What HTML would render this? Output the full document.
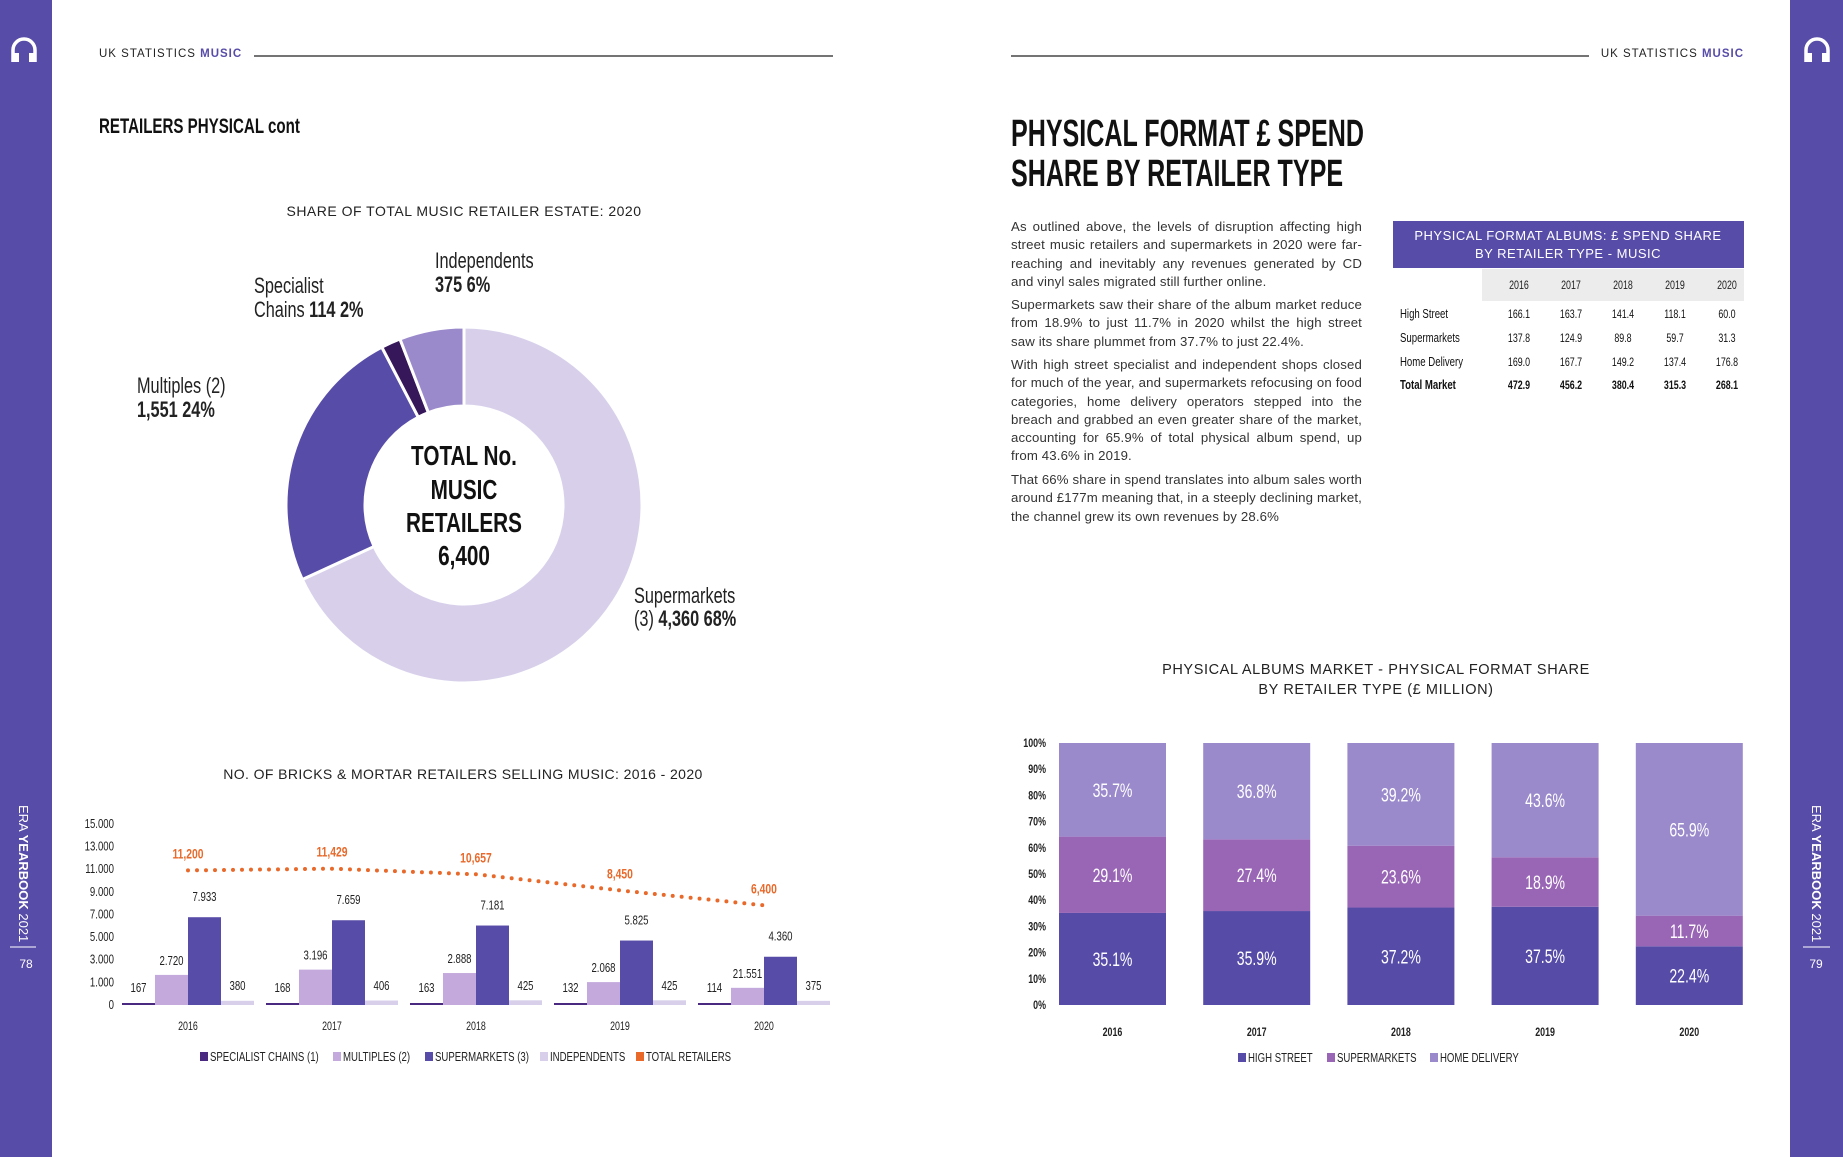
<!DOCTYPE html>
<html><head><meta charset="utf-8">
<style>
html,body{margin:0;padding:0;background:#fff;}
body{width:1843px;height:1157px;position:relative;overflow:hidden;font-family:"Liberation Sans",sans-serif;}
.para{position:absolute;left:1011px;width:351px;font-family:"Liberation Sans",sans-serif;font-size:13.2px;letter-spacing:0.15px;line-height:18.3px;color:#333;text-align:justify;margin:0;}
</style></head>
<body>
<svg id="page" width="1843" height="1157" viewBox="0 0 1843 1157" xmlns="http://www.w3.org/2000/svg" style="position:absolute;left:0;top:0;font-family:'Liberation Sans',sans-serif;">
  <rect x="0" y="0" width="52" height="1157" fill="#574ca8"/>
  <rect x="1790" y="0" width="53" height="1157" fill="#574ca8"/>
  <g fill="none" stroke="#fff" stroke-width="3.5">
    <path d="M13 62 V50 a11 11 0 0 1 22 0 V62"/><rect x="13" y="53" width="6" height="9" fill="#fff" stroke="none"/><rect x="29" y="53" width="6" height="9" fill="#fff" stroke="none"/>
  </g>
  <g fill="none" stroke="#fff" stroke-width="3.5">
    <path d="M1806 62 V50 a11 11 0 0 1 22 0 V62"/><rect x="1806" y="53" width="6" height="9" fill="#fff" stroke="none"/><rect x="1822" y="53" width="6" height="9" fill="#fff" stroke="none"/>
  </g>
  <text data-wide="1" transform="translate(19,805) rotate(90)" fill="#fff" font-size="13">ERA <tspan font-weight="bold">YEARBOOK</tspan> 2021</text>
  <line x1="10" y1="947" x2="36" y2="947" stroke="#fff" stroke-width="1"/>
  <text data-wide="1" x="26" y="968" fill="#fff" font-size="12" text-anchor="middle">78</text>
  <text data-wide="1" transform="translate(1812,805) rotate(90)" fill="#fff" font-size="13">ERA <tspan font-weight="bold">YEARBOOK</tspan> 2021</text>
  <line x1="1803" y1="947" x2="1830" y2="947" stroke="#fff" stroke-width="1"/>
  <text data-wide="1" x="1816" y="968" fill="#fff" font-size="12" text-anchor="middle">79</text>

  <text data-wide="1" x="99" y="57" font-size="11.5" letter-spacing="1" fill="#222">UK STATISTICS <tspan fill="#574ca8" font-weight="bold">MUSIC</tspan></text>
  <line x1="254" y1="56" x2="833" y2="56" stroke="#222" stroke-width="1.2"/>
  <line x1="1011" y1="56" x2="1589" y2="56" stroke="#222" stroke-width="1.2"/>
  <text data-wide="1" x="1744" y="57" text-anchor="end" font-size="11.5" letter-spacing="1" fill="#222">UK STATISTICS <tspan fill="#574ca8" font-weight="bold">MUSIC</tspan></text>

  <text x="99" y="133" font-size="21" font-weight="bold" fill="#111" transform="translate(99,0) scale(0.72,1) translate(-99,0)">RETAILERS PHYSICAL cont</text>

  <!-- Donut -->
  <text data-wide="1" x="464" y="216" text-anchor="middle" font-size="14" letter-spacing="0.5" fill="#222">SHARE OF TOTAL MUSIC RETAILER ESTATE: 2020</text>
  <g id="donut"></g>
  <g font-size="28" font-weight="bold" fill="#111" text-anchor="middle">
    <text x="464" y="465">TOTAL No.</text><text x="464" y="499">MUSIC</text><text x="464" y="532">RETAILERS</text><text x="464" y="565">6,400</text>
  </g>
  <g font-size="22" fill="#222">
    <text x="435" y="268">Independents</text>
    <text x="435" y="292" font-weight="bold">375 6%</text>
    <text x="254" y="293">Specialist</text>
    <text x="254" y="317">Chains <tspan font-weight="bold">114 2%</tspan></text>
    <text x="137" y="393">Multiples (2)</text>
    <text x="137" y="417" font-weight="bold">1,551 24%</text>
    <text x="634" y="603">Supermarkets</text>
    <text x="634" y="626">(3) <tspan font-weight="bold">4,360 68%</tspan></text>
  </g>

  <!-- Bar chart -->
  <text data-wide="1" x="463" y="779" text-anchor="middle" font-size="14" letter-spacing="0.4" fill="#222">NO. OF BRICKS &amp; MORTAR RETAILERS SELLING MUSIC:  2016 - 2020</text>
  <g id="bars"></g>

  <!-- Right page -->
  <g font-size="38" font-weight="bold" fill="#111">
    <text x="1011" y="146" transform="translate(1011,0) scale(0.66,1) translate(-1011,0)">PHYSICAL FORMAT £ SPEND</text>
    <text x="1011" y="186" transform="translate(1011,0) scale(0.66,1) translate(-1011,0)">SHARE BY RETAILER TYPE</text>
  </g>
  <g>
    <rect x="1393" y="221" width="351" height="47" fill="#574ca8"/>
    <text data-wide="1" x="1568" y="240" text-anchor="middle" fill="#fff" font-size="13" letter-spacing="0.5">PHYSICAL FORMAT ALBUMS: £ SPEND SHARE</text>
    <text data-wide="1" x="1568" y="258" text-anchor="middle" fill="#fff" font-size="13" letter-spacing="0.5">BY RETAILER TYPE - MUSIC</text>
    <rect x="1482" y="269" width="262" height="32" fill="#ececec"/>
    <g id="table"></g>
  </g>

  <text data-wide="1" x="1376" y="674" text-anchor="middle" font-size="14.5" letter-spacing="0.6" fill="#222">PHYSICAL ALBUMS MARKET - PHYSICAL FORMAT SHARE</text>
  <text data-wide="1" x="1376" y="694" text-anchor="middle" font-size="14.5" letter-spacing="0.6" fill="#222">BY RETAILER TYPE (£ MILLION)</text>
  <g id="stack"></g>
</svg>

<p class="para" style="top:218px;">As outlined above, the levels of disruption affecting high street music retailers and supermarkets in 2020 were far-reaching and inevitably any revenues generated by CD and vinyl sales migrated still further online.</p>
<p class="para" style="top:296px;">Supermarkets saw their share of the album market reduce from 18.9% to just 11.7% in 2020 whilst the high street saw its share plummet from 37.7% to just 22.4%.</p>
<p class="para" style="top:356px;">With high street specialist and independent shops closed for much of the year, and supermarkets refocusing on food categories, home delivery operators stepped into the breach and grabbed an even greater share of the market, accounting for 65.9% of total physical album spend, up from 43.6% in 2019.</p>
<p class="para" style="top:471px;">That 66% share in spend translates into album sales worth around £177m meaning that, in a steeply declining market, the channel grew its own revenues by 28.6%</p>

<script>
const NS = "http://www.w3.org/2000/svg";
function mk(tag, attrs, parent, txt) {
  const e = document.createElementNS(NS, tag);
  for (const k in attrs) e.setAttribute(k, attrs[k]);
  if (txt !== undefined) e.textContent = txt;
  parent.appendChild(e);
  return e;
}

// ---- Donut data ----
const donutCategories = ["Supermarkets", "Multiples", "Specialist Chains", "Independents"];
const donutValues = [4360, 1551, 114, 375];
const donutColors = ["#d8d0eb", "#574ca8", "#36175a", "#9b8acb"];

// ---- Bar chart data ----
const barYears = ["2016", "2017", "2018", "2019", "2020"];
const specialistValues = [167, 168, 163, 132, 114];
const multiplesValues = [2720, 3196, 2888, 2068, 1551];
const supermarketValues = [7933, 7659, 7181, 5825, 4360];
const independentValues = [380, 406, 425, 425, 375];
const totalValues = [11200, 11429, 10657, 8450, 6400];
const multiplesLabels = ["2.720", "3.196", "2.888", "2.068", "21.551"];
const supermarketLabels = ["7.933", "7.659", "7.181", "5.825", "4.360"];
const totalLabels = ["11,200", "11,429", "10,657", "8,450", "6,400"];
const barTickLabels = ["0", "1.000", "3.000", "5.000", "7.000", "9.000", "11.000", "13.000", "15.000"];

// ---- Stacked chart data ----
const stackYears = ["2016", "2017", "2018", "2019", "2020"];
const highStreetShare = [35.1, 35.9, 37.2, 37.5, 22.4];
const supermarketShare = [29.1, 27.4, 23.6, 18.9, 11.7];
const homeDeliveryShare = [35.7, 36.8, 39.2, 43.6, 65.9];
const stackTickLabels = ["0%", "10%", "20%", "30%", "40%", "50%", "60%", "70%", "80%", "90%", "100%"];

// ---- Table data ----
const tableYears = ["2016", "2017", "2018", "2019", "2020"];
const tableRows = ["High Street", "Supermarkets", "Home Delivery", "Total Market"];
const tableHighStreet = ["166.1", "163.7", "141.4", "118.1", "60.0"];
const tableSupermarkets = ["137.8", "124.9", "89.8", "59.7", "31.3"];
const tableHomeDelivery = ["169.0", "167.7", "149.2", "137.4", "176.8"];
const tableTotal = ["472.9", "456.2", "380.4", "315.3", "268.1"];

// Donut
(function () {
  const g = document.getElementById("donut");
  const cx = 464, cy = 505, R = 178, r = 99;
  const total = donutValues.reduce((a, b) => a + b, 0);
  let a0 = -Math.PI / 2;
  donutValues.forEach((v, i) => {
    const a1 = a0 + v / total * Math.PI * 2;
    const large = (a1 - a0) > Math.PI ? 1 : 0;
    const p = (rad, a) => (cx + rad * Math.cos(a)).toFixed(2) + " " + (cy + rad * Math.sin(a)).toFixed(2);
    const d = "M" + p(R, a0) + " A" + R + " " + R + " 0 " + large + " 1 " + p(R, a1) +
      " L" + p(r, a1) + " A" + r + " " + r + " 0 " + large + " 0 " + p(r, a0) + " Z";
    const el = mk("path", { d: d, fill: donutColors[i], stroke: "#fff", "stroke-width": 3 }, g);
    
    
    a0 = a1;
  });
})();

// Bar chart
(function () {
  const g = document.getElementById("bars");
  const y0 = 1005, yTop = 824, maxV = 15000;
  const barH = 166;
  const y = v => y0 - v / maxV * barH;
  const lineY = v => 952 - v * 0.00729;
  const groupLeft = i => 122 + i * 144;
  const bw = 33;
  barTickLabels.forEach((t, i) => {
    const el = mk("text", { x: 114, y: y0 - i * (y0 - yTop) / (barTickLabels.length - 1) + 4, "text-anchor": "end", "font-size": 13, fill: "#222" }, g, t);
    
    
  });
  const series = [
    { v: specialistValues, c: "#4a2a80", n: "specialist" },
    { v: multiplesValues, c: "#c3a9dc", n: "multiples" },
    { v: supermarketValues, c: "#574ca8", n: "supermarkets" },
    { v: independentValues, c: "#d8d0eb", n: "independents" }
  ];
  barYears.forEach((yr, i) => {
    const gl = groupLeft(i);
    series.forEach((s, k) => {
      const h = Math.max(2, y0 - y(s.v[i]));
      const el = mk("rect", { x: gl + k * bw, y: y0 - h, width: bw, height: h, fill: s.c }, g);
      
      
    });
    const fs = 13;
    let t = mk("text", { x: gl + bw * 0.5, y: 992, "font-size": fs, fill: "#222", "text-anchor": "middle" }, g, String(specialistValues[i]));
    
    
    t = mk("text", { x: gl + bw * 1.5, y: y(multiplesValues[i]) - 10, "font-size": fs, fill: "#222", "text-anchor": "middle" }, g, multiplesLabels[i]);
    
    
    t = mk("text", { x: gl + bw * 2.5, y: y(supermarketValues[i]) - 16, "font-size": fs, fill: "#222", "text-anchor": "middle" }, g, supermarketLabels[i]);
    
    
    t = mk("text", { x: gl + bw * 3.5, y: 990, "font-size": fs, fill: "#222", "text-anchor": "middle" }, g, String(independentValues[i]));
    
    
    t = mk("text", { x: gl + bw * 2, y: 1030, "font-size": 12, fill: "#222", "text-anchor": "middle" }, g, yr);
    
    
  });
  const pts = totalValues.map((v, i) => [groupLeft(i) + 2 * bw, lineY(v)]);
  const d = "M" + pts.map(p => p[0] + " " + p[1].toFixed(1)).join(" L");
  const line = mk("path", { d: d, fill: "none", stroke: "#e8692a", "stroke-width": 4, "stroke-dasharray": "0 9", "stroke-linecap": "round" }, g);
  
  
  totalValues.forEach((v, i) => {
    const t = mk("text", { x: pts[i][0], y: lineY(v) - 12, "font-size": 14, "font-weight": "bold", fill: "#e8692a", "text-anchor": "middle" }, g, totalLabels[i]);
    
    
  });
  const legendItems = [["SPECIALIST CHAINS (1)", "#4a2a80"], ["MULTIPLES (2)", "#c3a9dc"], ["SUPERMARKETS (3)", "#574ca8"], ["INDEPENDENTS", "#d8d0eb"], ["TOTAL RETAILERS", "#e8692a"]];
  const lx = [200, 333, 425, 540, 636];
  legendItems.forEach((it, i) => {
    const r = mk("rect", { x: lx[i], y: 1052, width: 8, height: 9, fill: it[1] }, g);
    
    
    const t = mk("text", { x: lx[i] + 10, y: 1061, "font-size": 13, fill: "#222" }, g, it[0]);
    
    
  });
})();

// Table
(function () {
  const g = document.getElementById("table");
  const colX = [1519, 1571, 1623, 1675, 1727];
  tableYears.forEach((yr, i) => {
    const t = mk("text", { x: colX[i], y: 289, "font-size": 12, fill: "#222", "text-anchor": "middle" }, g, yr);
    
    
  });
  const rowData = [tableHighStreet, tableSupermarkets, tableHomeDelivery, tableTotal];
  const rowY = [318, 342, 366, 389];
  tableRows.forEach((name, r) => {
    const bold = r === 3 ? "bold" : "normal";
    const t = mk("text", { x: 1400, y: rowY[r], "font-size": 13, fill: "#111", "font-weight": bold }, g, name);
    
    
    rowData[r].forEach((v, c) => {
      const cell = mk("text", { x: colX[c], y: rowY[r], "font-size": 12, fill: "#111", "font-weight": bold, "text-anchor": "middle" }, g, v);
      
      
    });
  });
})();

// Stacked chart
(function () {
  const g = document.getElementById("stack");
  const y0 = 1005, yTop = 743;
  const y = v => y0 - v / 100 * (y0 - yTop);
  const bx = i => 1059 + i * 144.2;
  const bw = 107;
  stackTickLabels.forEach((t, i) => {
    const el = mk("text", { x: 1046, y: y(i * 10) + 4, "font-size": 12, fill: "#222", "text-anchor": "end", "font-weight": "bold" }, g, t);
    
    
  });
  const series = [
    { v: highStreetShare, c: "#564ca8", n: "high-street" },
    { v: supermarketShare, c: "#9966b6", n: "supermarkets" },
    { v: homeDeliveryShare, c: "#9a8acb", n: "home-delivery" }
  ];
  stackYears.forEach((yr, i) => {
    let base = 0;
    const tot = series.reduce((a, s) => a + s.v[i], 0);
    series.forEach((s, k) => {
      const v0 = base / tot * 100, v1 = (base + s.v[i]) / tot * 100;
      const top = (k === series.length - 1) ? 100 : v1;
      const r = mk("rect", { x: bx(i), y: y(top), width: bw, height: y(v0) - y(top), fill: s.c }, g);
      
      
      const t = mk("text", { x: bx(i) + bw / 2, y: (y(v0) + y(v1)) / 2 + 7, "font-size": 19, fill: "#fff", "text-anchor": "middle" }, g, s.v[i].toFixed(1) + "%");
      
      
      base += s.v[i];
    });
    const t = mk("text", { x: bx(i) + bw / 2, y: 1036, "font-size": 12, fill: "#222", "text-anchor": "middle", "font-weight": "bold" }, g, yr);
    
    
  });
  const legendItems = [["HIGH STREET", "#564ca8"], ["SUPERMARKETS", "#9966b6"], ["HOME DELIVERY", "#9a8acb"]];
  const lx = [1238, 1327, 1430];
  legendItems.forEach((it, i) => {
    const r = mk("rect", { x: lx[i], y: 1053, width: 8, height: 9, fill: it[1] }, g);
    
    
    const t = mk("text", { x: lx[i] + 10, y: 1062, "font-size": 13, fill: "#222" }, g, it[0]);
    
    
  });
})();

// Condense text to emulate a narrow typeface
(function () {
  const S = 0.74;
  document.querySelectorAll("#page text").forEach(t => {
    if (t.hasAttribute("data-wide") || t.hasAttribute("transform")) return;
    const x = parseFloat(t.getAttribute("x") || "0");
    t.setAttribute("transform", "translate(" + x + ",0) scale(" + S + ",1) translate(" + (-x) + ",0)");
  });
})();
</script>
</body></html>
